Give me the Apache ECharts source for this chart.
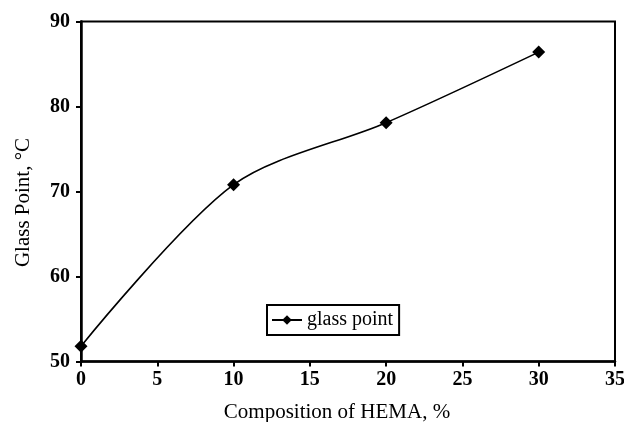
<!DOCTYPE html>
<html><head><meta charset="utf-8">
<script src="https://cdn.jsdelivr.net/npm/echarts@6/dist/echarts.min.js"></script>
<style>html,body{margin:0;padding:0;background:#fff}#c{width:624px;height:422px}</style>
</head><body><div id="c"></div>
<script>
const xValues = [0, 10, 20, 30];
const glassPoint = [51.8, 70.8, 78.1, 86.4];
const seriesName = 'glass point';
const xTitle = 'Composition of HEMA, %';
const yTitle = 'Glass Point, °C';

const font = '"Liberation Serif", "Times New Roman", serif';
const chart = echarts.init(document.getElementById('c'), null, {renderer: 'canvas'});
chart.setOption({
  backgroundColor: '#fff',
  animation: false,
  grid: {left: 81, right: 9, top: 21.5, bottom: 60.5, show: true, borderColor: '#000', borderWidth: 2, backgroundColor: 'transparent', outerBoundsMode: 'none', containLabel: false},
  legend: {
    show: true, left: 267, top: 305, width: 125, height: 33,
    orient: 'horizontal', padding: [5, 6, 5, 4],
    borderColor: '#000', borderWidth: 2, itemWidth: 30, itemHeight: 12, itemGap: 4,
    textStyle: {fontFamily: font, fontSize: 20, color: '#000'},
    data: [seriesName]
  },
  xAxis: {
    type: 'value', min: 0, max: 35, interval: 5,
    name: xTitle, nameLocation: 'middle', nameGap: 40,
    nameTextStyle: {fontFamily: font, fontSize: 21, color: '#000', padding: [0, 22, 0, 0]},
    axisLine: {show: true, lineStyle: {color: '#000', width: 2.5}},
    axisTick: {show: true, inside: false, length: 5, lineStyle: {color: '#000', width: 2}},
    axisLabel: {fontFamily: font, fontSize: 20, fontWeight: 'bold', color: '#000', margin: 8},
    splitLine: {show: false}
  },
  yAxis: {
    type: 'value', min: 50, max: 90, interval: 10,
    name: yTitle, nameLocation: 'middle', nameGap: 47, nameRotate: 90,
    nameTextStyle: {fontFamily: font, fontSize: 21, color: '#000', padding: [0, 22, 0, 0]},
    axisLine: {show: true, lineStyle: {color: '#000', width: 2.5}},
    axisTick: {show: true, inside: false, length: 5, lineStyle: {color: '#000', width: 2}},
    axisLabel: {fontFamily: font, fontSize: 20, fontWeight: 'bold', color: '#000', margin: 11},
    splitLine: {show: false}
  },
  series: [{
    name: seriesName, type: 'line', smooth: 0.3,
    data: xValues.map((x, i) => [x, glassPoint[i]]),
    symbol: 'diamond', symbolSize: 13,
    lineStyle: {color: '#000', width: 1.6},
    itemStyle: {color: '#000'}
  }]
});
</script></body></html>
